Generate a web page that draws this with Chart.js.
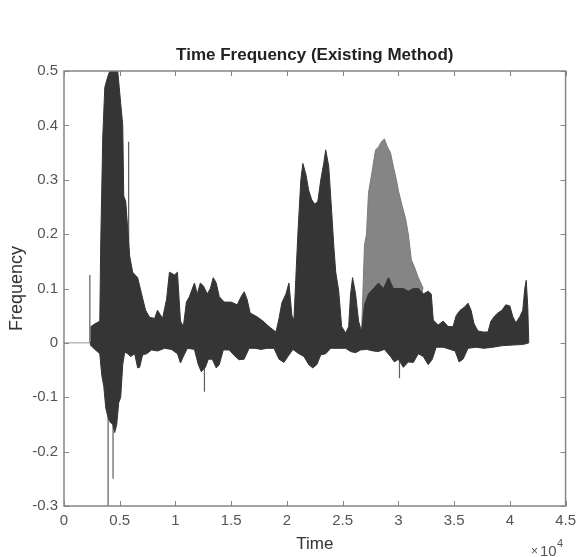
<!DOCTYPE html>
<html>
<head>
<meta charset="utf-8">
<script src="https://cdn.jsdelivr.net/npm/chart.js@4.4.1/dist/chart.umd.min.js"></script>
<style>
  html, body { margin: 0; padding: 0; background: #ffffff; }
  #wrap { width: 582px; height: 557px; }
</style>
</head>
<body>
<div id="wrap"><canvas id="c" width="582" height="557"></canvas></div>
<script>
// ---- Data ----
// Upper envelope of the signal (time, value)
const upperTime = [2380, 2420, 2770, 3210, 3300, 3480, 3660, 3930, 4110, 4460, 4820, 5090, 5270, 5360, 5540, 5890, 6160, 6610, 6960, 7320, 7680, 8130, 8390, 8840, 9200, 9460, 9910, 10180, 10450, 10710, 10980, 11250, 11700, 11960, 12230, 12500, 12860, 13130, 13390, 13660, 13930, 14380, 15000, 15540, 15890, 16160, 16430, 16700, 17320, 17860, 18390, 19020, 19290, 19550, 19910, 20180, 20450, 20630, 20800, 20980, 21250, 21430, 21700, 21960, 22230, 22500, 22770, 23040, 23300, 23480, 23750, 24020, 24200, 24380, 24640, 24910, 25270, 25540, 25710, 25890, 26160, 26430, 26700, 26960, 27320, 27770, 28210, 28660, 29110, 29550, 30000, 30450, 30890, 31340, 31790, 32230, 32680, 32950, 33130, 33570, 34020, 34460, 34910, 35180, 35540, 35890, 36250, 36520, 36790, 37140, 37590, 38040, 38300, 38660, 38930, 39290, 39640, 40000, 40270, 40540, 40890, 41160, 41340, 41470, 41610, 41700];
const upperValue = [0, 0.03, 0.035, 0.04, 0.19, 0.38, 0.47, 0.49, 0.5, 0.5, 0.5, 0.44, 0.4, 0.27, 0.26, 0.16, 0.13, 0.12, 0.09, 0.06, 0.047, 0.045, 0.06, 0.045, 0.08, 0.13, 0.125, 0.13, 0.04, 0.03, 0.075, 0.085, 0.11, 0.09, 0.11, 0.105, 0.09, 0.1, 0.12, 0.11, 0.085, 0.075, 0.075, 0.07, 0.085, 0.094, 0.08, 0.055, 0.048, 0.04, 0.03, 0.02, 0.045, 0.074, 0.09, 0.11, 0.05, 0.042, 0.12, 0.2, 0.3, 0.33, 0.31, 0.28, 0.263, 0.255, 0.26, 0.3, 0.33, 0.355, 0.325, 0.24, 0.18, 0.13, 0.097, 0.03, 0.018, 0.03, 0.09, 0.12, 0.09, 0.04, 0.02, 0.07, 0.09, 0.1, 0.11, 0.1, 0.12, 0.1, 0.1, 0.1, 0.095, 0.1, 0.1, 0.09, 0.095, 0.09, 0.042, 0.033, 0.04, 0.03, 0.03, 0.05, 0.06, 0.065, 0.073, 0.06, 0.035, 0.022, 0.02, 0.02, 0.04, 0.05, 0.055, 0.06, 0.07, 0.068, 0.048, 0.037, 0.048, 0.06, 0.1, 0.115, 0.065, 0];

// Lower envelope of the signal (time, value)
const lowerTime = [2380, 2420, 2770, 3210, 3390, 3570, 3750, 3930, 4110, 4380, 4550, 4730, 4910, 5090, 5270, 5450, 5710, 5980, 6340, 6610, 6790, 7050, 7410, 7860, 8390, 9020, 9640, 10180, 10450, 10710, 11070, 11700, 12050, 12320, 12680, 12950, 13300, 13660, 13930, 14290, 14820, 15360, 15710, 16160, 16610, 17140, 17680, 18210, 18840, 19290, 19730, 20090, 20540, 21070, 21520, 21960, 22320, 22680, 23040, 23480, 23930, 24640, 25270, 25710, 26160, 26610, 27140, 27770, 28210, 28750, 29290, 29640, 30000, 30450, 30890, 31340, 31790, 32230, 32680, 33040, 33390, 34020, 34640, 35090, 35450, 35800, 36250, 36960, 37680, 38480, 39380, 40270, 41160, 41700];
const lowerValue = [0, -0.005, -0.012, -0.02, -0.06, -0.08, -0.12, -0.135, -0.145, -0.15, -0.165, -0.15, -0.11, -0.1, -0.04, -0.017, -0.02, -0.025, -0.02, -0.046, -0.045, -0.022, -0.02, -0.013, -0.015, -0.01, -0.012, -0.02, -0.037, -0.025, -0.01, -0.012, -0.04, -0.053, -0.045, -0.03, -0.03, -0.046, -0.04, -0.013, -0.013, -0.025, -0.031, -0.03, -0.01, -0.01, -0.012, -0.01, -0.01, -0.03, -0.036, -0.025, -0.012, -0.02, -0.025, -0.04, -0.046, -0.04, -0.022, -0.02, -0.01, -0.01, -0.01, -0.016, -0.018, -0.013, -0.012, -0.015, -0.016, -0.012, -0.025, -0.035, -0.03, -0.045, -0.035, -0.036, -0.02, -0.025, -0.04, -0.03, -0.008, -0.008, -0.012, -0.015, -0.035, -0.03, -0.01, -0.008, -0.01, -0.008, -0.005, -0.004, -0.003, 0];

// Lighter (grey) upper part of the burst near t = 2.7-3.2 x10^4
const greyTime = [26700, 26960, 27140, 27320, 27680, 27950, 28210, 28480, 28750, 29020, 29290, 29550, 29820, 30000, 30360, 30630, 30890, 31160, 31430, 31790, 32230];
const greyValue = [0.02, 0.18, 0.2, 0.276, 0.32, 0.355, 0.36, 0.37, 0.375, 0.36, 0.35, 0.324, 0.3, 0.28, 0.25, 0.23, 0.2, 0.153, 0.14, 0.12, 0.1];

// Isolated thin spikes (time, peak value)
const spikeTime = [2320, 5800, 3955, 4400, 12600, 30100];
const spikeValue = [0.125, 0.37, -0.3, -0.25, -0.09, -0.065];

// Flat baseline before the signal starts
const baseTime = [0, 2380];
const baseValue = [0, 0];

// Axis ticks
const xTicks = [0, 5000, 10000, 15000, 20000, 25000, 30000, 35000, 40000, 45000];
const yTicks = [-0.3, -0.2, -0.1, 0, 0.1, 0.2, 0.3, 0.4, 0.5];

// ---- Build library data ----
const pts = (t, v) => t.map((x, i) => ({ x: x, y: v[i] }));
const spikePts = [];
spikeTime.forEach((t, i) => {
  spikePts.push({ x: t, y: 0 }, { x: t, y: spikeValue[i] }, { x: t, y: null });
});

const FONT = "'Liberation Sans', Arial, sans-serif";
const AXIS = '#858585';

const boxTicks = {
  id: 'boxTicks',
  afterDraw(chart) {
    const { ctx, chartArea: a, scales: { x, y } } = chart;
    ctx.save();
    ctx.strokeStyle = AXIS;
    ctx.lineWidth = 1.5;
    ctx.strokeRect(a.left, a.top, a.right - a.left, a.bottom - a.top);
    ctx.lineWidth = 1;
    const L = 5;
    ctx.beginPath();
    xTicks.forEach(v => {
      const px = Math.round(x.getPixelForValue(v)) + 0.5;
      ctx.moveTo(px, a.bottom); ctx.lineTo(px, a.bottom - L);
      ctx.moveTo(px, a.top); ctx.lineTo(px, a.top + L);
    });
    yTicks.forEach(v => {
      const py = Math.round(y.getPixelForValue(v)) + 0.5;
      ctx.moveTo(a.left, py); ctx.lineTo(a.left + L, py);
      ctx.moveTo(a.right, py); ctx.lineTo(a.right - L, py);
    });
    ctx.stroke();
    // exponent label  x10^4
    ctx.fillStyle = '#555';
    ctx.textBaseline = 'alphabetic';
    ctx.textAlign = 'left';
    ctx.font = '12px ' + FONT;
    ctx.fillText('\u00d7', 531, 555);
    ctx.font = '15px ' + FONT;
    ctx.fillText('10', 540, 556);
    ctx.font = '11px ' + FONT;
    ctx.fillText('4', 557, 547);
    ctx.restore();
  }
};

const fmtY = v => { const n = Number(v.toFixed(1)); return (n === 0 ? 0 : n).toString(); };

new Chart(document.getElementById('c'), {
  type: 'line',
  data: {
    datasets: [
      { label: 'spikes', data: spikePts, borderColor: '#5e5e5e', borderWidth: 1.2, pointRadius: 0, fill: false, spanGaps: false, order: 2 },
      { label: 'upper', data: pts(upperTime, upperValue), borderColor: '#353535', backgroundColor: '#353535', borderWidth: 1, pointRadius: 0, fill: 'origin', order: 1 },
      { label: 'lower', data: pts(lowerTime, lowerValue), borderColor: '#353535', backgroundColor: '#353535', borderWidth: 1, pointRadius: 0, fill: 'origin', order: 1 },
      { label: 'grey', data: pts(greyTime, greyValue), borderColor: '#7a7a7a', backgroundColor: '#858585', borderWidth: 1, pointRadius: 0, fill: 'origin', order: 3 },
      { label: 'base', data: pts(baseTime, baseValue), borderColor: '#9a9a9a', borderWidth: 1, pointRadius: 0, fill: false, order: 4 }
    ]
  },
  options: {
    responsive: false,
    animation: false,
    events: [],
    layout: { padding: { left: 0, right: 14, top: 0, bottom: 0 } },
    elements: { line: { tension: 0 } },
    plugins: {
      legend: { display: false },
      tooltip: { enabled: false },
      title: {
        display: true,
        fullSize: false,
        text: 'Time Frequency (Existing Method)',
        color: '#222',
        font: { family: FONT, size: 17, weight: 'bold' },
        padding: { top: 45, bottom: 5.6 }
      }
    },
    scales: {
      x: {
        type: 'linear',
        min: 0, max: 45000,
        afterFit(s) { s.height = 51; },
        afterBuildTicks(s) { s.ticks = xTicks.map(v => ({ value: v })); },
        grid: { display: false, drawTicks: false },
        border: { display: false },
        ticks: {
          color: '#555', padding: 6,
          font: { family: FONT, size: 15 },
          maxRotation: 0,
          callback: v => (v / 10000).toString()
        },
        title: { display: true, text: 'Time', color: '#333', font: { family: FONT, size: 17 }, padding: { top: 0, bottom: 2 } }
      },
      y: {
        type: 'linear',
        min: -0.3, max: 0.5,
        afterFit(s) { s.width = 64; },
        afterBuildTicks(s) { s.ticks = yTicks.map(v => ({ value: v })); },
        grid: { display: false, drawTicks: false },
        border: { display: false },
        ticks: {
          color: '#555', padding: 6,
          font: { family: FONT, size: 15 },
          callback: v => fmtY(v)
        },
        title: { display: true, text: 'Frequency', color: '#333', font: { family: FONT, size: 18 }, padding: { top: 6, bottom: 0 } }
      }
    }
  },
  plugins: [boxTicks]
});
</script>
</body>
</html>
